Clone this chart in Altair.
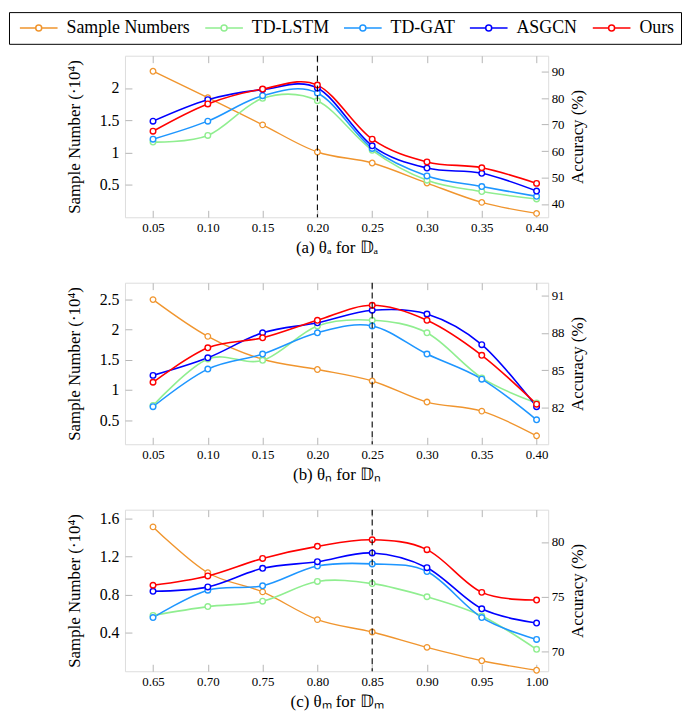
import altair as alt
import pandas as pd

SERIES = ["Sample Numbers", "TD-LSTM", "TD-GAT", "ASGCN", "Ours"]
COLORS = ["#F0952E", "#90EE90", "#1E96FF", "#0000FF", "#FF0000"]
METHODS = ["TD-LSTM", "TD-GAT", "ASGCN", "Ours"]

# panel (a)
xa = [0.05, 0.10, 0.15, 0.20, 0.25, 0.30, 0.35, 0.40]
a_samples = [2.26, 1.85, 1.43, 1.01, 0.84, 0.53, 0.23, 0.06]
a_tdlstm = [63.4, 65.9, 79.9, 79.0, 60.3, 49.0, 44.7, 41.9]
a_tdgat = [64.5, 71.3, 80.9, 81.9, 61.0, 50.6, 46.6, 42.9]
a_asgcn = [71.3, 79.4, 83.2, 83.8, 62.0, 53.6, 51.6, 44.9]
a_ours = [67.5, 77.8, 83.4, 84.9, 64.5, 55.9, 53.7, 47.8]

# panel (b)
xb = [0.05, 0.10, 0.15, 0.20, 0.25, 0.30, 0.35, 0.40]
b_samples = [2.50, 1.89, 1.51, 1.34, 1.15, 0.80, 0.65, 0.24]
b_tdlstm = [82.2, 85.9, 85.8, 88.55, 89.0, 88.0, 84.4, 82.4]
b_tdgat = [82.1, 85.1, 86.3, 88.0, 88.55, 86.3, 84.3, 81.05]
b_asgcn = [84.6, 86.0, 88.0, 88.8, 89.8, 89.5, 87.05, 82.1]
b_ours = [84.05, 86.8, 87.6, 89.0, 90.2, 89.0, 86.2, 82.3]

# panel (c)
xc = [0.65, 0.70, 0.75, 0.80, 0.85, 0.90, 0.95, 1.00]
c_samples = [1.51, 1.03, 0.83, 0.54, 0.41, 0.25, 0.11, 0.01]
c_tdlstm = [73.3, 74.1, 74.6, 76.4, 76.2, 75.0, 73.25, 70.2]
c_tdgat = [73.1, 75.6, 76.0, 77.8, 78.0, 77.3, 73.1, 71.1]
c_asgcn = [75.5, 75.9, 77.6, 78.2, 79.0, 77.65, 73.9, 72.6]
c_ours = [76.05, 76.9, 78.5, 79.6, 80.2, 79.3, 75.4, 74.7]

thresholds = [0.20, 0.25, 0.85]
captions = ["(a) \u03b8\u2090 for \U0001D53B\u2090",
            "(b) \u03b8\u2099 for \U0001D53B\u2099",
            "(c) \u03b8\u2098 for \U0001D53B\u2098"]

FONT = "Liberation Serif"
W, H = 427, 163
TICK = "#b5b5b5"

# legend glyph: a 38px line with an open circle in its middle (size 100 -> 5px per unit)
LEGEND_GLYPH = ("M-1,0L2.2,0M3.4,0L6.6,0"
                "M3.4,0A0.6,0.6,0,1,1,2.2,0A0.6,0.6,0,1,1,3.4,0Z")

color = alt.Color(
    "series:N",
    scale=alt.Scale(domain=SERIES, range=COLORS),
    legend=alt.Legend(
        title=None, orient="none", direction="horizontal",
        legendX=-117, legendY=-44,
        symbolType=LEGEND_GLYPH,
        symbolSize=100, symbolStrokeWidth=1.5, symbolFillColor="white",
        labelFont=FONT, labelFontSize=18, labelColor="black",
        columnPadding=11, labelOffset=33, padding=7,
        strokeColor="black", fillColor="white",
    ),
)


def panel(x, samples, accs, thr, xdom, ldom, lticks, lfmt, rdom, rticks, caption):
    df_s = pd.DataFrame({"x": x, "value": samples, "series": SERIES[0]})
    rows = []
    for name, vals in zip(METHODS, accs):
        for xi, v in zip(x, vals):
            rows.append({"x": xi, "value": v, "series": name})
    df_a = pd.DataFrame(rows)
    df_t = pd.DataFrame({"x": [thr]})

    xscale = alt.Scale(domain=xdom, nice=False, zero=False)
    x_bottom = alt.X("x:Q", scale=xscale, axis=alt.Axis(
        orient="bottom", values=x, format=".2f", title=caption,
        offset=-7, tickSize=7, domain=False, grid=False, tickColor=TICK,
        labelFont=FONT, labelFontSize=13, labelPadding=4, labelColor="black",
        titleFont=FONT, titleFontSize=17, titleFontWeight="normal",
        titlePadding=6, titleColor="black"))
    x_none = alt.X("x:Q", scale=xscale, axis=None)
    x_top = alt.X("x:Q", scale=xscale, axis=alt.Axis(
        orient="top", values=x, labels=False, title=None,
        offset=-7, tickSize=7, domain=False, grid=False, tickColor=TICK))

    y_left = alt.Y("value:Q", scale=alt.Scale(domain=ldom, nice=False, zero=False),
                   axis=alt.Axis(orient="left", values=lticks, format=lfmt,
                                 title="Sample Number (\u00b710\u2074)",
                                 offset=-7, tickSize=7, domain=False, grid=False,
                                 tickColor=TICK, labelFont=FONT, labelFontSize=16,
                                 labelPadding=6, labelColor="black",
                                 titleFont=FONT, titleFontSize=17,
                                 titleFontWeight="normal", titlePadding=16,
                                 titleColor="black"))
    y_right = alt.Y("value:Q", scale=alt.Scale(domain=rdom, nice=False, zero=False),
                    axis=alt.Axis(orient="right", values=rticks, format="d",
                                  title="Accuracy (%)", titleAngle=270,
                                  titleBaseline="top",
                                  offset=-7, tickSize=7, domain=False, grid=False,
                                  tickColor=TICK, labelFont=FONT, labelFontSize=13,
                                  labelPadding=3, labelColor="black",
                                  titleFont=FONT, titleFontSize=17,
                                  titleFontWeight="normal", titlePadding=6,
                                  titleColor="black"))

    bs = alt.Chart(df_s).encode(x=x_bottom, y=y_left, color=color)
    left = alt.layer(
        bs.mark_line(interpolate="cardinal", strokeWidth=1.4),
        bs.mark_point(filled=False, fill="white", fillOpacity=1, size=32,
                      strokeWidth=1.3, opacity=1),
    )
    ba = alt.Chart(df_a).encode(x=x_none, y=y_right, color=color,
                                detail="series:N")
    right = alt.layer(
        ba.mark_line(interpolate="cardinal", strokeWidth=1.6),
        ba.mark_point(filled=False, fill="white", fillOpacity=1, size=32,
                      strokeWidth=1.4, opacity=1),
    )
    rule = alt.Chart(df_t).mark_rule(color="black", strokeWidth=1.1,
                                     strokeDash=[6, 4]).encode(x=x_top)
    return alt.layer(left, right, rule).resolve_scale(y="independent").properties(
        width=W, height=H)


pa = panel(xa, a_samples, [a_tdlstm, a_tdgat, a_asgcn, a_ours], thresholds[0],
           [0.0244, 0.4106], [0.0, 2.5], [0.5, 1, 1.5, 2], "~g",
           [35.0, 96.0], [40, 50, 60, 70, 80, 90], captions[0])
pb = panel(xb, b_samples, [b_tdlstm, b_tdgat, b_asgcn, b_ours], thresholds[1],
           [0.0244, 0.4106], [0.1, 2.78], [0.5, 1, 1.5, 2, 2.5], "~g",
           [79.1, 92.0], [82, 85, 88, 91], captions[1])
pc = panel(xc, c_samples, [c_tdlstm, c_tdgat, c_asgcn, c_ours], thresholds[2],
           [0.6244, 1.0106], [0.0, 1.69], [0.4, 0.8, 1.2, 1.6], ".1f",
           [68.2, 82.95], [70, 75, 80], captions[2])

chart = alt.vconcat(pa, pb, pc, spacing=24).properties(
    padding=0
).configure_view(stroke="black", strokeWidth=1.2).configure(background="white")

chart.save("out.html", embed_options={"renderer": "svg", "actions": False})
